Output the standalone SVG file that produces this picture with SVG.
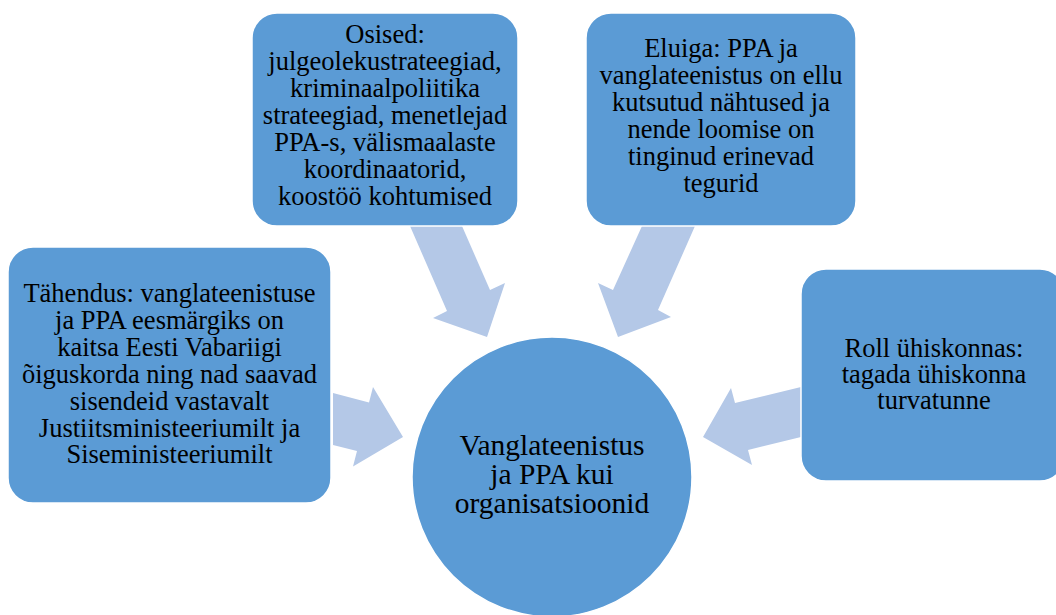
<svg xmlns="http://www.w3.org/2000/svg" width="1056" height="615" viewBox="0 0 1056 615">
<style>
.box{fill:#5b9bd5;stroke:#ffffff;stroke-width:1.5}
.arr{fill:#b4c8e7}
.t{font-family:"Liberation Serif","Times New Roman",serif;font-size:26.5px;fill:#000;text-anchor:middle}
.tc{font-family:"Liberation Serif","Times New Roman",serif;font-size:29.5px;fill:#000;text-anchor:middle}
</style>
<rect width="1056" height="615" fill="#ffffff"/>
<g id="connectors">
<polygon class="arr" points="333,393 369,402.5 373,387 403,437 353,466.5 357,451 333,445"/>
<polygon class="arr" points="801,387 735,403 731,388 703,437 752,465 748,450 801,437"/>
<polygon class="arr" points="410,226 462,226 490,290 505,283 487,337 433,318 447,311"/>
<polygon class="arr" points="642,226 695,226 658,310 671,317 618,337 598,283 613,290"/>
</g>
<g id="node-center">
<circle class="box" cx="552" cy="477" r="140"/>
<text class="tc" x="552" y="455">Vanglateenistus</text>
<text class="tc" x="552" y="484">ja PPA kui</text>
<text class="tc" x="552" y="513">organisatsioonid</text>
</g>
<g id="node-osised">
<rect class="box" x="252" y="13" width="266" height="213" rx="25"/>
<text class="t" x="385" y="43">Osised:</text>
<text class="t" x="385" y="70">julgeolekustrateegiad,</text>
<text class="t" x="385" y="97">kriminaalpoliitika</text>
<text class="t" x="385" y="124">strateegiad, menetlejad</text>
<text class="t" x="385" y="151">PPA-s, välismaalaste</text>
<text class="t" x="385" y="178">koordinaatorid,</text>
<text class="t" x="385" y="205">koostöö kohtumised</text>
</g>
<g id="node-eluiga">
<rect class="box" x="586" y="13" width="270" height="213" rx="25"/>
<text class="t" x="721" y="57">Eluiga: PPA ja</text>
<text class="t" x="721" y="84">vanglateenistus on ellu</text>
<text class="t" x="721" y="111">kutsutud nähtused ja</text>
<text class="t" x="721" y="138">nende loomise on</text>
<text class="t" x="721" y="165">tinginud erinevad</text>
<text class="t" x="721" y="192">tegurid</text>
</g>
<g id="node-tahendus">
<rect class="box" x="8" y="247" width="323" height="256" rx="25"/>
<text class="t" x="169.5" y="302">Tähendus: vanglateenistuse</text>
<text class="t" x="169.5" y="329">ja PPA eesmärgiks on</text>
<text class="t" x="169.5" y="356">kaitsa Eesti Vabariigi</text>
<text class="t" x="169.5" y="383">õiguskorda ning nad saavad</text>
<text class="t" x="169.5" y="410">sisendeid vastavalt</text>
<text class="t" x="169.5" y="437">Justiitsministeeriumilt ja</text>
<text class="t" x="169.5" y="463">Siseministeeriumilt</text>
</g>
<g id="node-roll">
<rect class="box" x="801" y="269" width="264" height="212" rx="25"/>
<text class="t" x="934" y="357">Roll ühiskonnas:</text>
<text class="t" x="934" y="383">tagada ühiskonna</text>
<text class="t" x="934" y="409">turvatunne</text>
</g>
</svg>
